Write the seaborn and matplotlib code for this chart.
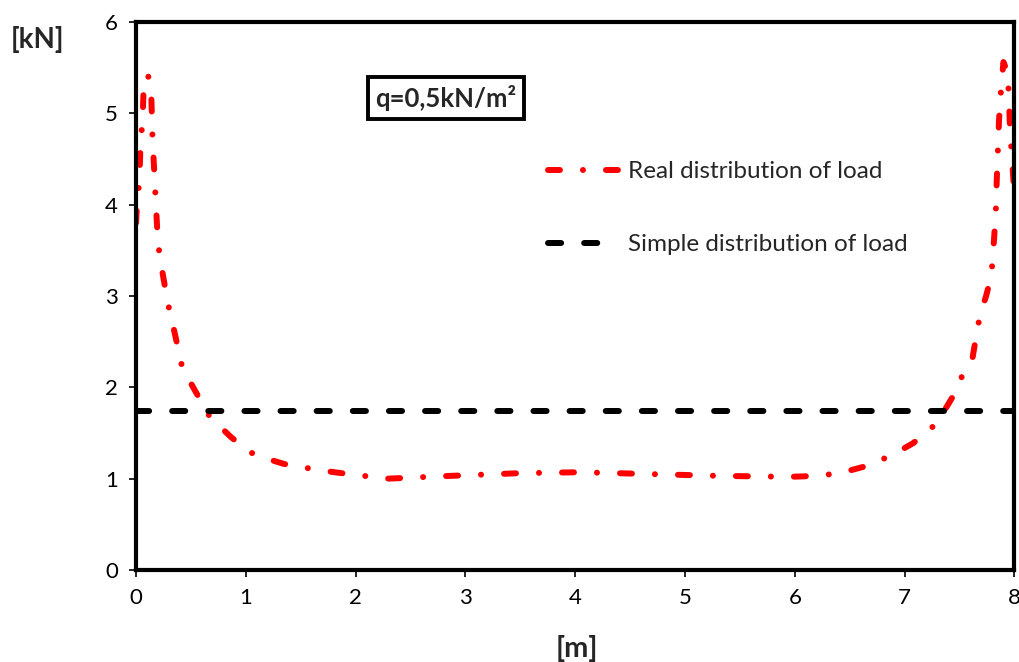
import matplotlib
matplotlib.use("Agg")
import matplotlib.pyplot as plt
import seaborn as sns
import pandas as pd

# Position along the beam [m] and real load distribution [kN]
x_real = [0.0, 0.01, 0.03, 0.04, 0.06, 0.07, 0.11, 0.14, 0.15, 0.17, 0.18, 0.20,
          0.23, 0.29, 0.34, 0.42, 0.52, 0.67, 0.86, 1.02, 1.13, 1.35, 1.68, 2.0,
          2.3, 2.86, 3.5, 4.05, 4.68, 5.32, 5.96, 6.2, 6.41, 6.69, 6.92, 7.08,
          7.25, 7.34, 7.44, 7.53, 7.62, 7.65, 7.69, 7.74, 7.79, 7.81, 7.83, 7.84,
          7.85, 7.86, 7.88, 7.90, 7.94, 7.95, 7.96, 7.98, 8.0]
y_real = [3.80, 4.02, 4.25, 4.63, 4.95, 5.29, 5.42, 5.15, 4.73, 4.27, 4.02, 3.58,
          3.33, 2.92, 2.66, 2.22, 2.00, 1.68, 1.46, 1.30, 1.24, 1.16, 1.09, 1.04,
          1.00, 1.03, 1.06, 1.07, 1.05, 1.03, 1.02, 1.03, 1.06, 1.15, 1.28, 1.39,
          1.56, 1.70, 1.90, 2.14, 2.33, 2.55, 2.81, 2.99, 3.22, 3.54, 3.91, 4.30,
          4.61, 4.93, 5.29, 5.56, 5.44, 5.16, 4.82, 4.47, 4.09]

# Simple (uniform) load distribution [kN]
x_simple = [0.0, 8.0]
y_simple = [1.74, 1.74]

x_ticks = [0, 1, 2, 3, 4, 5, 6, 7, 8]
y_ticks = [0, 1, 2, 3, 4, 5, 6]

real_label = "Real distribution of load"
simple_label = "Simple distribution of load"

sns.set_theme(style="white")
plt.rcParams["font.family"] = ["Lato", "DejaVu Sans"]

real = pd.DataFrame({"x": x_real, "y": y_real})
simple = pd.DataFrame({"x": x_simple, "y": y_simple})

fig = plt.figure(figsize=(10.19, 6.62), dpi=100)
ax = fig.add_axes([0.1335, 0.139, 0.862, 0.828])

LW = 4.3
sns.lineplot(data=real, x="x", y="y", ax=ax, color="#ff0000", linewidth=LW,
             label=real_label, sort=False, estimator=None,
             dash_capstyle="round", solid_capstyle="round")
sns.lineplot(data=simple, x="x", y="y", ax=ax, color="black", linewidth=LW,
             label=simple_label, estimator=None, dash_capstyle="round")

ax.lines[0].set_linestyle((0, (2.0, 3.85, 0.01, 3.85)))
ax.lines[1].set_linestyle((0, (2.2, 3.85)))

ax.set_xlim(0, 8)
ax.set_ylim(0, 6)
ax.set_xticks(x_ticks)
ax.set_yticks(y_ticks)
ax.tick_params(axis="both", direction="out", length=5, width=1.2,
               colors="black", labelsize=16, pad=8, bottom=True, left=True)

for sp in ax.spines.values():
    sp.set_visible(True)
    sp.set_color("black")
    sp.set_linewidth(3)

ax.set_xlabel("")
ax.set_ylabel("")
fig.text(0.566, 0.021, "[m]", ha="center", va="center", fontsize=21,
         fontweight="bold")
fig.text(0.037, 0.94, "[kN]", ha="center", va="center", fontsize=20,
         fontweight="bold")

ax.text(0.353, 0.861, "q=0,5kN/m²", transform=ax.transAxes, ha="center",
        va="center", fontsize=18.5, fontweight="bold",
        bbox=dict(boxstyle="square,pad=0.3", facecolor="white",
                  edgecolor="black", linewidth=2.8))

leg = ax.legend(loc="upper left", bbox_to_anchor=(0.469, 0.746), frameon=False,
                fontsize=17.5, handlelength=2.96, handletextpad=0.33,
                labelspacing=2.14, borderpad=0, borderaxespad=0)

fig.savefig("out.png", dpi=100)
